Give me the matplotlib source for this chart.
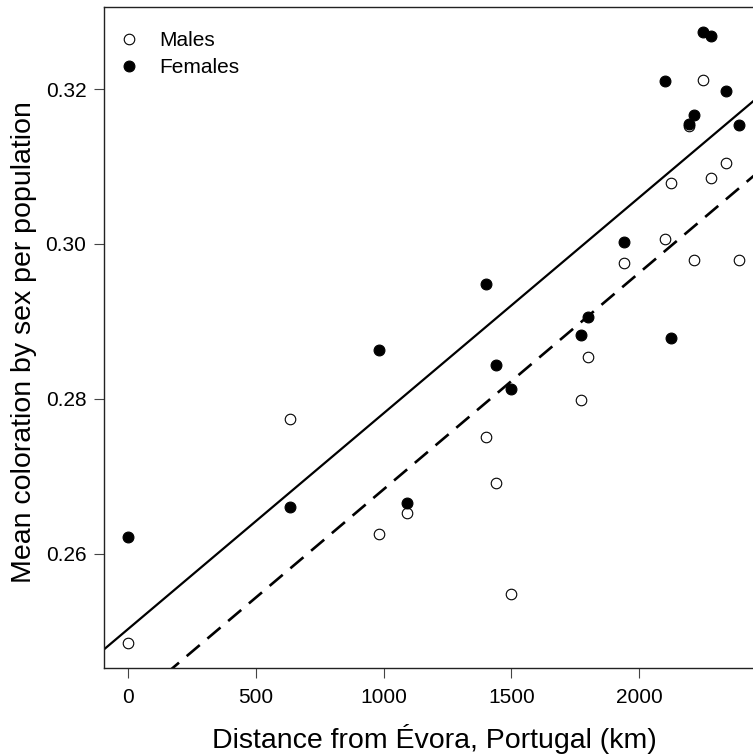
import numpy as np
import matplotlib
matplotlib.use('Agg')
import matplotlib.pyplot as plt

plt.rcParams['font.family'] = ['Liberation Sans', 'DejaVu Sans']

# distance from Evora (km), one value per population
distance = [0, 635, 983, 1090, 1402, 1441, 1498, 1774, 1799, 1942,
            2102, 2124, 2196, 2216, 2248, 2281, 2341, 2392]

males = [0.2484, 0.2774, 0.2626, 0.2653, 0.2750, 0.2691, 0.2548, 0.2799, 0.2854, 0.2976,
         0.3006, 0.3079, 0.3152, 0.2979, 0.3212, 0.3085, 0.3104, 0.2979]
females = [0.2621, 0.2660, 0.2863, 0.2666, 0.2948, 0.2844, 0.2813, 0.2883, 0.2905, 0.3002,
           0.3210, 0.2878, 0.3155, 0.3166, 0.3274, 0.3269, 0.3197, 0.3153]

# regression lines (intercept, slope per km)
fem_fit = (0.25025, 2.787e-5)
male_fit = (0.24034, 2.796e-5)

x_ticks = [0, 500, 1000, 1500, 2000]
y_ticks = [0.26, 0.28, 0.30, 0.32]

W, H = 753, 756
fig = plt.figure(figsize=(W / 100, H / 100), dpi=100)
ax = fig.add_axes([103.7 / W, (H - 668) / H, (759 - 103.7) / W, (668 - 7) / H])

xlim = (-95, 2469)
ylim = (0.24523, 0.3306)

xx = np.array(xlim)
ax.plot(xx, fem_fit[0] + fem_fit[1] * xx, color='black', lw=1.6, solid_capstyle='butt')
ax.plot(xx, male_fit[0] + male_fit[1] * xx, color='black', lw=1.9,
        dashes=(6.5, 3.8), dash_capstyle='butt')

ax.plot(distance, males, 'o', ms=7.6, mfc='white', mec='black', mew=0.8, label='Males')
ax.plot(distance, females, 'o', ms=7.8, mfc='black', mec='black', mew=0.8, label='Females')

ax.set_xlim(*xlim)
ax.set_ylim(*ylim)
ax.set_xticks(x_ticks)
ax.set_xticklabels([str(t) for t in x_ticks])
ax.set_yticks(y_ticks)
ax.set_yticklabels(['%.2f' % t for t in y_ticks])
ax.tick_params(axis='both', direction='out', length=7.5, width=0.8, color='#444444',
               labelsize=15)
ax.tick_params(axis='x', pad=7)
ax.tick_params(axis='y', pad=5)
for s in ax.spines.values():
    s.set_linewidth(1.0)
    s.set_color('#222222')

ax.legend(loc='upper left', bbox_to_anchor=(0.026, 0.963), frameon=False, fontsize=15,
          handlelength=0.8, handletextpad=1.05, labelspacing=0.37, borderaxespad=0,
          borderpad=0)

fig.text(434 / W, 1 - 739 / H, 'Distance from Évora, Portugal (km)', fontsize=20.5,
         ha='center', va='center')
fig.text(24 / W, 1 - 342 / H, 'Mean coloration by sex per population', fontsize=20.5,
         ha='center', va='center', rotation=90)

fig.savefig('out.png', dpi=100)
